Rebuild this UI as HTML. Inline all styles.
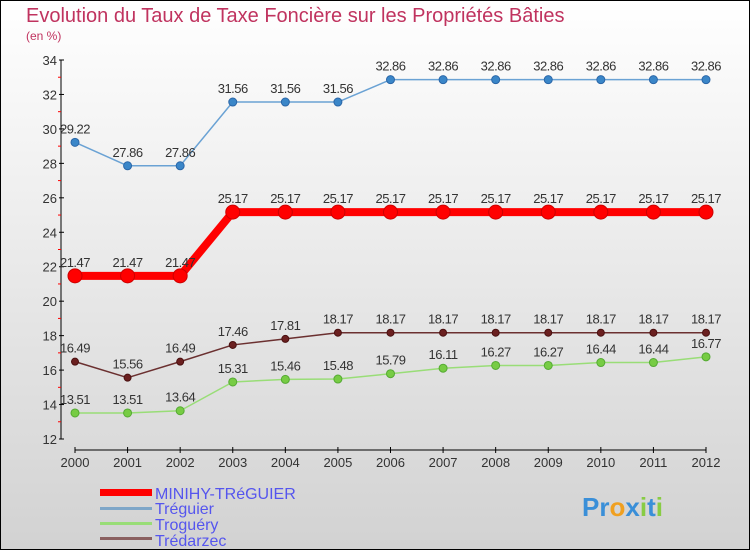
<!DOCTYPE html>
<html><head><meta charset="utf-8"><style>
body{margin:0;width:750px;height:550px;overflow:hidden}
svg{display:block;font-family:"Liberation Sans",sans-serif}
</style></head><body>
<svg width="750" height="550" xmlns="http://www.w3.org/2000/svg">
<defs><linearGradient id="bg" x1="0" y1="0" x2="0" y2="1"><stop offset="0" stop-color="#ffffff"/><stop offset="1" stop-color="#d2d2d2"/></linearGradient></defs>
<rect x="0.5" y="0.5" width="749" height="549" fill="url(#bg)" stroke="#000"/>
<text x="26" y="22" font-size="20" fill="#c0335f">Evolution du Taux de Taxe Foncière sur les Propriétés Bâties</text>
<text x="26" y="40" font-size="12" fill="#c0335f">(en %)</text>
<g id="axes"></g><g id="series"></g>
<g>
<rect x="100" y="489" width="52" height="7" fill="#f00"/>
<text x="155" y="499" font-size="16" fill="#5555ee">MINIHY-TRéGUIER</text>
<rect x="100" y="507" width="52" height="3" fill="#7ea6c8"/>
<text x="155" y="514" font-size="16" fill="#5555ee">Tréguier</text>
<rect x="100" y="522" width="52" height="3" fill="#99dd77"/>
<text x="155" y="530" font-size="16" fill="#5555ee">Troguéry</text>
<rect x="100" y="537" width="52" height="3" fill="#8a6060"/>
<text x="155" y="546" font-size="16" fill="#5555ee">Trédarzec</text>
</g>
<g font-size="26" font-weight="bold">
<text x="582" y="516"><tspan fill="#3a8fd8">Pr</tspan><tspan fill="#f0a020">o</tspan><tspan fill="#3a8fd8">x</tspan><tspan fill="#88cc44">i</tspan><tspan fill="#3a8fd8">t</tspan><tspan fill="#88cc44">i</tspan></text>
</g>
</svg>
<script>
const years=[2000,2001,2002,2003,2004,2005,2006,2007,2008,2009,2010,2011,2012];
const yTicks=[12,14,16,18,20,22,24,26,28,30,32,34];
const minihy=[21.47,21.47,21.47,25.17,25.17,25.17,25.17,25.17,25.17,25.17,25.17,25.17,25.17];
const treguier=[29.22,27.86,27.86,31.56,31.56,31.56,32.86,32.86,32.86,32.86,32.86,32.86,32.86];
const troguery=[13.51,13.51,13.64,15.31,15.46,15.48,15.79,16.11,16.27,16.27,16.44,16.44,16.77];
const tredarzec=[16.49,15.56,16.49,17.46,17.81,18.17,18.17,18.17,18.17,18.17,18.17,18.17,18.17];
const NS="http://www.w3.org/2000/svg";
const xS=i=>75+i*(706-75)/(years.length-1);
const yS=v=>439-(v-12)*(439-60)/22;
function mk(t,a,p){const e=document.createElementNS(NS,t);for(const k in a)e.setAttribute(k,a[k]);p.appendChild(e);return e;}
const ax=document.getElementById('axes');
let e=mk('line',{x1:61,y1:60,x2:61,y2:439,stroke:'#000'},ax);

e=mk('line',{x1:75,y1:450,x2:706,y2:450,stroke:'#000'},ax);

yTicks.forEach(v=>{
 mk('line',{x1:59,y1:yS(v),x2:64,y2:yS(v),stroke:'#000'},ax);
 if(v<34)mk('line',{x1:58,y1:yS(v+1),x2:61,y2:yS(v+1),stroke:'#f00'},ax);
 const t=mk('text',{x:57,y:yS(v)+5,'font-size':13,fill:'#333','text-anchor':'end'},ax);
 t.textContent=v;
 
 
});
years.forEach((y,i)=>{
 mk('line',{x1:xS(i),y1:447,x2:xS(i),y2:453,stroke:'#000'},ax);
 const t=mk('text',{x:xS(i),y:467,'font-size':13,fill:'#333','text-anchor':'middle'},ax);
 t.textContent=y;
 
 
});
const sg=document.getElementById('series');
function series(name,vals,color,w,r,dot,stroke){
 const g=mk('g',{},sg);
 
 
 const pl=mk('polyline',{points:vals.map((v,i)=>xS(i)+','+yS(v)).join(' '),fill:'none',stroke:color,'stroke-width':w,'stroke-linejoin':'round'},g);
 
 
 vals.forEach((v,i)=>{
  const c=mk('circle',{cx:xS(i),cy:yS(v),r:r,fill:dot,stroke:stroke,'stroke-width':1},g);
  
  
  const t=mk('text',{x:xS(i),y:yS(v)-9,'font-size':13,fill:'#333','text-anchor':'middle','letter-spacing':'-0.5'},g);
  t.textContent=v.toFixed(2);
  
  
 });
}
series('tredarzec',tredarzec,'#6b3030',1.5,3.5,'#6b2020','#4a1010');
series('troguery',troguery,'#99dd77',1.5,4,'#77cc44','#55aa33');
series('treguier',treguier,'#6aa2d4',1.5,4,'#3a86c8','#2a66a8');
series('minihy',minihy,'#ff0000',8,7,'#ff0000','#cc0000');
</script>
</body></html>
